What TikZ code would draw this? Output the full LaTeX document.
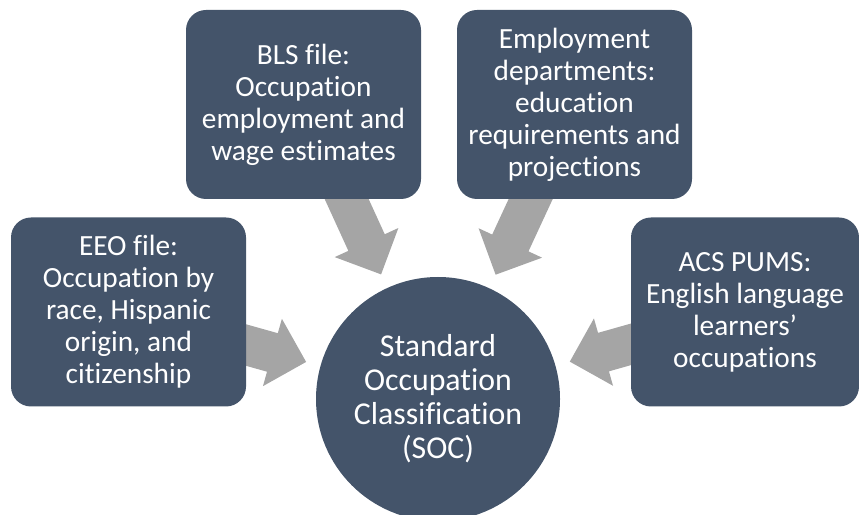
\documentclass[tikz,border=0pt]{standalone}
\usepackage{fontspec}
\setmainfont{Carlito}[Ligatures=NoCommon]
\usetikzlibrary{calc,backgrounds}
\definecolor{slate}{HTML}{44546A}
\definecolor{arrowgray}{HTML}{A5A5A5}

\begin{document}
\begin{tikzpicture}[x=1pt, y=1pt,
        source/.style={fill=slate, rounded corners=20pt, minimum width=235pt,
            minimum height=189pt, align=center, text=white, inner sep=0pt,
            font=\fontsize{29.3}{32}\selectfont},
        hub/.style={circle, fill=slate, minimum size=244pt, align=center,
            text=white, inner sep=0pt, font=\fontsize{31.8}{34}\selectfont},
        feed/.style={fill=arrowgray}]
    \path[use as bounding box, clip] (0,0) rectangle (859,514);

    % the classification in the middle
    \node[hub] (soc) at (438,115) {Standard\\Occupation\\Classification\\(SOC)};

    % the four data sources
    \node[source] (bls) at (303.5,409.5) {BLS file:\\Occupation\\employment and\\wage estimates};
    \node[source] (emp) at (574.5,409.5) {Employment\\departments:\\education\\requirements and\\projections};
    \node[source] (eeo) at (128.5,202) {EEO file:\\Occupation by\\race, Hispanic\\origin, and\\citizenship};
    \node[source, minimum width=228pt] (acs) at (745,202) {ACS PUMS:\\English language\\learners'\\occupations};

    % block arrows, tail hidden under the boxes
    \begin{scope}[on background layer]
        \foreach \src/\ang in {eeo/-15.7, bls/-65.45, emp/-114.87, acs/-164.18}
            \fill[feed, shift={($(soc)!137pt!(\src)$)}, rotate=\ang]
                (0,0) -- (-35,35) -- (-35,20) -- (-100,20) -- (-100,-20)
                -- (-35,-20) -- (-35,-35) -- cycle;
    \end{scope}
\end{tikzpicture}
\end{document}
